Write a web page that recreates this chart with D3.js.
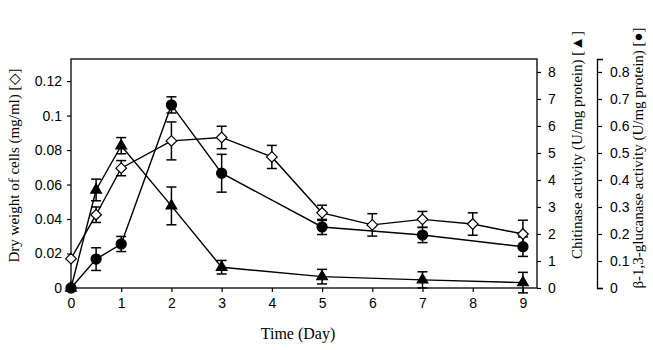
<!DOCTYPE html>
<html>
<head>
<meta charset="utf-8">
<script src="https://cdn.jsdelivr.net/npm/d3@7"></script>
<style>
  body { margin: 0; background: #fff; }
  .tick text { font-family: "Liberation Sans", Arial, sans-serif; font-size: 14px; fill: #000; }
  .axis-label { font-family: "Liberation Serif", "Times New Roman", serif; font-size: 15px; fill: #000; }
</style>
</head>
<body>
<div id="chart"></div>
<script>
// Days sampled for each series
const daysDry = [0, 0.5, 1, 2, 3, 4, 5, 6, 7, 8, 9];
const dryWeight = [0.017, 0.0425, 0.0695, 0.0853, 0.0873, 0.076, 0.0436, 0.0366, 0.0398, 0.0371, 0.0313];
const dryErr = [0, 0.0045, 0.0044, 0.011, 0.0065, 0.0067, 0.0044, 0.0065, 0.0046, 0.0065, 0.008];

const daysEnz = [0, 0.5, 1, 2, 3, 5, 7, 9];
const chitinase = [0, 3.63, 5.27, 3.04, 0.77, 0.42, 0.3, 0.2];
const chitErr = [0, 0.4, 0.3, 0.7, 0.25, 0.27, 0.3, 0.38];
const glucanase = [0, 0.107, 0.163, 0.678, 0.425, 0.226, 0.196, 0.153];
const glucErr = [0, 0.042, 0.028, 0.03, 0.07, 0.028, 0.028, 0.036];

const xTicks = [0, 1, 2, 3, 4, 5, 6, 7, 8, 9];
const dryTicks = [0, 0.02, 0.04, 0.06, 0.08, 0.1, 0.12];
const chitTicks = [0, 1, 2, 3, 4, 5, 6, 7, 8];
const glucTicks = [0, 0.1, 0.2, 0.3, 0.4, 0.5, 0.6, 0.7, 0.8];

const W = 653, H = 350;
const plot = { left: 71, right: 537, top: 59, bottom: 288 };

const svg = d3.select("#chart").append("svg")
    .attr("width", W)
    .attr("height", H);

// Scales
const x = d3.scaleLinear().domain([0, 9.28]).range([plot.left, plot.right]);
const yDry = d3.scaleLinear().domain([0, 0.1328]).range([plot.bottom, plot.top]);
const yChit = d3.scaleLinear().domain([0, 8.48]).range([plot.bottom, plot.top]);
const yGluc = d3.scaleLinear().domain([0, 0.848]).range([plot.bottom, plot.top]);

// Frame
svg.append("rect")
    .attr("x", plot.left).attr("y", plot.top)
    .attr("width", plot.right - plot.left).attr("height", plot.bottom - plot.top)
    .attr("fill", "none").attr("stroke", "#000").attr("stroke-width", 1.3);

function styleAxis(g) {
    g.selectAll(".tick line").attr("stroke", "#000").attr("stroke-width", 1.2);
    g.selectAll(".domain").attr("stroke", "#000").attr("stroke-width", 1.3);
}

// x axis
svg.append("g")
    .attr("transform", `translate(0,${plot.bottom})`)
    .call(d3.axisBottom(x).tickValues(xTicks).tickSize(4).tickPadding(6).tickFormat(d3.format("d")))
    .call(g => g.select(".domain").remove())
    .call(styleAxis);

// left axis
svg.append("g")
    .attr("transform", `translate(${plot.left},0)`)
    .call(d3.axisLeft(yDry).tickValues(dryTicks).tickSize(4).tickPadding(5).tickFormat(d => d === 0 ? "0" : String(+d.toFixed(2))))
    .call(g => g.select(".domain").remove())
    .call(styleAxis);

// chitinase axis
svg.append("g")
    .attr("transform", `translate(${plot.right},0)`)
    .call(d3.axisRight(yChit).tickValues(chitTicks).tickSize(4).tickPadding(7).tickFormat(d3.format("d")))
    .call(g => g.select(".domain").remove())
    .call(styleAxis);

// glucanase axis (bracket style)
svg.append("g")
    .attr("transform", `translate(597,0)`)
    .call(d3.axisRight(yGluc).tickValues(glucTicks).tickSize(5).tickSizeOuter(6).tickPadding(8)
        .tickFormat(d => d === 0 ? "0" : String(+d.toFixed(1))))
    .call(styleAxis);

// Axis labels
svg.append("text")
    .attr("class", "axis-label")
    .attr("transform", `translate(19,${(plot.top + plot.bottom) / 2 - 8}) rotate(-90)`)
    .attr("text-anchor", "middle")
    .text("Dry weight of cells (mg/ml) [\u25C7]");

svg.append("text")
    .attr("class", "axis-label")
    .attr("transform", `translate(582,145) rotate(-90)`)
    .attr("text-anchor", "middle")
    .text("Chitinase activity (U/mg protein) [\u25B2]");

svg.append("text")
    .attr("class", "axis-label")
    .attr("transform", `translate(643,158) rotate(-90)`)
    .attr("text-anchor", "middle")
    .text("\u03B2-1,3-glucanase  activity (U/mg protein) [\u25CF]");

svg.append("text")
    .attr("class", "axis-label")
    .attr("x", 298).attr("y", 339)
    .style("font-size", "16px")
    .attr("text-anchor", "middle")
    .text("Time (Day)");

// Series drawing helper
function drawSeries(days, vals, errs, yScale, shape, fill) {
    const pts = days.map((d, i) => ({ d: d, v: vals[i], e: errs[i] }));

    svg.append("path")
        .datum(pts)
        .attr("fill", "none")
        .attr("stroke", "#000")
        .attr("stroke-width", 1.4)
        .attr("d", d3.line().x(p => x(p.d)).y(p => yScale(p.v)));

    const eb = svg.append("g").attr("stroke", "#000").attr("stroke-width", 1.5);
    pts.filter(p => p.e > 0).forEach(p => {
        const cx = x(p.d), y1 = yScale(p.v + p.e), y2 = yScale(p.v - p.e);
        eb.append("line").attr("x1", cx).attr("x2", cx).attr("y1", y1).attr("y2", y2);
        eb.append("line").attr("x1", cx - 5).attr("x2", cx + 5).attr("y1", y1).attr("y2", y1);
        eb.append("line").attr("x1", cx - 5).attr("x2", cx + 5).attr("y1", y2).attr("y2", y2);
    });

    svg.append("g").selectAll("path")
        .data(pts)
        .join("path")
        .attr("transform", p => `translate(${x(p.d)},${yScale(p.v)})`)
        .attr("d", d3.symbol().type(shape.type).size(shape.size))
        .attr("fill", fill)
        .attr("stroke", "#000")
        .attr("stroke-width", 1.2);
}

drawSeries(daysEnz, chitinase, chitErr, yChit, { type: d3.symbolTriangle, size: 50 }, "#000");
drawSeries(daysEnz, glucanase, glucErr, yGluc, { type: d3.symbolCircle, size: 80 }, "#000");
drawSeries(daysDry, dryWeight, dryErr, yDry, { type: d3.symbolDiamond2, size: 72 }, "#fff");
</script>
</body>
</html>
